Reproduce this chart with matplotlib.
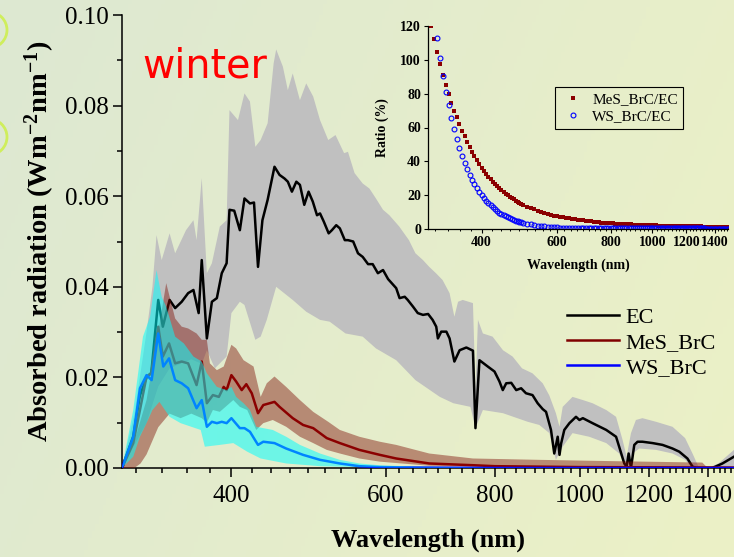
import numpy as np
import matplotlib
matplotlib.use("Agg")
import matplotlib.pyplot as plt
from matplotlib.ticker import FixedLocator, FixedFormatter, NullFormatter, MultipleLocator
from matplotlib.lines import Line2D
from matplotlib.patches import Circle

plt.rcParams['font.family'] = ['Liberation Serif', 'DejaVu Serif']
plt.rcParams['mathtext.fontset'] = 'custom'
plt.rcParams['mathtext.rm'] = 'Liberation Serif:bold'
plt.rcParams['mathtext.it'] = 'Liberation Serif:bold:italic'
plt.rcParams['mathtext.bf'] = 'Liberation Serif:bold'

# ---- main panel data (wavelength nm, absorbed radiation W m-2 nm-1) ----
ec_wl = [300, 309, 314.5, 320, 324, 330, 334, 340, 345, 351, 357, 362, 367, 370, 375, 380, 385, 390,
         395, 398, 403, 409, 414, 420, 424.5, 429, 434, 440, 448, 454, 460, 464, 469, 474.5, 479, 484.5,
         490, 495.5, 501, 505, 510, 516.6, 521, 527, 532, 539, 543.5, 551, 558, 565, 573, 580, 588, 596,
         604, 617, 622.5, 631, 636, 645, 653, 662, 671, 679, 685.5, 688.5, 694.6, 704, 710, 719, 729,
         742, 755, 760, 768, 785, 799, 809.5, 816.6, 824, 835, 846, 857, 868, 883, 895, 907, 915, 927,
         935, 943.5, 948, 952, 960, 973, 981.5, 990, 999, 1008, 1034, 1072, 1100, 1109, 1124, 1131,
         1137, 1144, 1154, 1164, 1179, 1211, 1243, 1276, 1299, 1327, 1345, 1360, 1417, 1455, 1500]
ec_mean = [0, 0.007, 0.016, 0.020, 0.021, 0.0371, 0.0312, 0.0371, 0.0353, 0.0367, 0.0386, 0.0393,
           0.0342, 0.0459, 0.0286, 0.0367, 0.0375, 0.0430, 0.0452, 0.0570, 0.0568, 0.0525, 0.0595,
           0.0584, 0.0586, 0.0444, 0.0547, 0.0592, 0.0665, 0.0647, 0.0639, 0.0632, 0.0610, 0.0632,
           0.0625, 0.0581, 0.0610, 0.0588, 0.0558, 0.0562, 0.0544, 0.0518, 0.0525, 0.0536, 0.0529,
           0.0503, 0.0503, 0.0500, 0.0474, 0.0466, 0.0450, 0.0450, 0.0430, 0.0437, 0.0417, 0.0397,
           0.0375, 0.0378, 0.0371, 0.0356, 0.0342, 0.0338, 0.0340, 0.0327, 0.0312, 0.0286, 0.0301,
           0.0301, 0.0286, 0.0235, 0.0260, 0.0266, 0.0259, 0.0088, 0.0238, 0.0224, 0.0213, 0.0191,
           0.0172, 0.0187, 0.0188, 0.0172, 0.0176, 0.0165, 0.0161, 0.0143, 0.0130, 0.0124, 0.0084,
           0.0032, 0.0069, 0.0029, 0.0054, 0.0084, 0.0099, 0.0106, 0.0113, 0.0106, 0.0110, 0.0099,
           0.0084, 0.0069, 0.0047, 0.0010, 0.0003, 0.0032, 0.0, 0.0051, 0.0058, 0.0058, 0.0055,
           0.0051, 0.0043, 0.0036, 0.0021, 0.0003, 0.0, 0.0, 0.0010, 0.0025]

ec_hi_wl = [300, 310, 320, 325, 328.5, 333, 340, 345, 355, 362, 365, 370, 375, 380, 388, 395, 398,
            407, 414, 420, 426, 432, 440, 447, 450, 458, 464, 470, 479, 487, 496, 505, 516, 526, 538,
            543.5, 553, 565, 575, 585, 596, 606, 622, 638, 649, 662, 673, 685, 697, 710, 719, 726, 735,
            755, 760, 765, 775, 795, 817, 838, 859, 883, 907, 923, 939, 948, 956, 981, 1008, 1034,
            1072, 1100, 1119, 1131, 1144, 1159, 1179, 1222, 1276, 1319, 1345, 1366, 1400, 1440, 1500]
ec_hi = [0, 0.012, 0.030, 0.040, 0.0514, 0.0459, 0.0518, 0.0474, 0.0525, 0.0547, 0.0503, 0.0640,
         0.0430, 0.0452, 0.0533, 0.0547, 0.0790, 0.0768, 0.0827, 0.0809, 0.0709, 0.0724, 0.0761,
         0.0893, 0.0924, 0.0886, 0.0834, 0.0871, 0.0812, 0.0849, 0.0820, 0.0768, 0.0724, 0.0735,
         0.0695, 0.0698, 0.0651, 0.0628, 0.0617, 0.0595, 0.0570, 0.0558, 0.0533, 0.0503, 0.0474,
         0.0459, 0.0444, 0.0430, 0.0415, 0.0386, 0.0334, 0.0367, 0.0371, 0.0364, 0.0172, 0.0327,
         0.0297, 0.0290, 0.0260, 0.0246, 0.0220, 0.0209, 0.0187, 0.0160, 0.0121, 0.0091, 0.0135,
         0.0157, 0.0150, 0.0143, 0.0128, 0.0113, 0.0062, 0.0025, 0.0077, 0.0106, 0.0110, 0.0102,
         0.0091, 0.0066, 0.0032, 0.0003, 0.0, 0.0010, 0.0040]

ec_lo_wl = [300, 320, 330, 340, 350, 360, 370, 375, 383, 395, 400, 409, 414, 426, 432, 439, 450, 470,
            487, 505, 518, 540, 565, 585, 617, 649, 692, 717, 750, 760, 775, 817, 872, 899, 923, 939,
            956, 981, 1025, 1072, 1109, 1131, 1149, 1169, 1222, 1276, 1319, 1345, 1500]
ec_lo = [0, 0.010, 0.018, 0.022, 0.023, 0.024, 0.023, 0.026, 0.0220, 0.0246, 0.0342, 0.0367, 0.0360,
         0.0283, 0.0290, 0.0327, 0.0400, 0.0371, 0.0345, 0.0327, 0.0323, 0.0297, 0.0290, 0.0264,
         0.0238, 0.0194, 0.0157, 0.0143, 0.0135, 0.0088, 0.0128, 0.0121, 0.0102, 0.0095, 0.0077,
         0.0018, 0.0047, 0.0077, 0.0069, 0.0055, 0.0032, 0.0, 0.0032, 0.0043, 0.0040, 0.0032,
         0.0018, 0.0, 0.0]

mes_wl = [300, 309, 314.5, 320, 324, 330, 334, 339.5, 345, 351, 357, 365, 370, 375, 381, 387, 392, 395,
          400, 405, 411, 416, 422, 429, 435, 448, 454, 470, 483, 496, 514, 532, 560, 591, 617, 673, 758,
          800, 1000, 1500]
mes_mean = [0, 0.0055, 0.0128, 0.0202, 0.0209, 0.0312, 0.0246, 0.0275, 0.0231, 0.0235, 0.0231, 0.0183,
            0.0235, 0.0143, 0.0161, 0.0157, 0.0179, 0.0172, 0.0205, 0.0191, 0.0172, 0.0185, 0.0165,
            0.0121, 0.0139, 0.0146, 0.0135, 0.0110, 0.0095, 0.0088, 0.0066, 0.0055, 0.0040, 0.0029,
            0.0021, 0.0010, 0.0006, 0.0004, 0.0002, 0.0001]
mes_hi_wl = [300, 310, 320, 330, 337, 345, 351, 357, 365, 370, 375, 378, 385, 392, 400, 405, 413, 424,
             432, 439, 448, 462, 479, 496, 516, 532, 560, 591, 617, 673, 755, 900, 1100, 1380, 1400]
mes_hi = [0, 0.006, 0.015, 0.030, 0.0408, 0.0330, 0.0312, 0.0308, 0.0297, 0.0283, 0.0283, 0.0231,
          0.0216, 0.0224, 0.0272, 0.0264, 0.0238, 0.0224, 0.0157, 0.0187, 0.0202, 0.0179, 0.0150,
          0.0124, 0.0102, 0.0084, 0.0069, 0.0058, 0.0051, 0.0032, 0.0021, 0.0018, 0.0015, 0.0012, 0.0]
mes_lo_wl = [300, 310, 315, 320, 330, 340, 350, 360, 370, 375, 381, 388, 402, 409, 417, 427, 435, 446,
             462, 479, 496, 514, 532, 560, 591, 617, 673, 800, 1500]
mes_lo = [0, 0.0, 0.001, 0.003, 0.009, 0.012, 0.011, 0.012, 0.011, 0.0100, 0.0128, 0.0124, 0.0150,
          0.0135, 0.0128, 0.0084, 0.0099, 0.0106, 0.0091, 0.0069, 0.0055, 0.0040, 0.0032, 0.0021,
          0.0014, 0.0011, 0.0005, 0.0002, 0.0]

ws_wl = [300, 309, 314.5, 320, 324.3, 330, 334.4, 339.5, 345, 351, 357, 365, 370, 375, 380, 385, 390,
         395, 400, 409, 414, 420, 429, 435, 448, 462, 483, 505, 532, 560, 591, 650, 800, 1500]
ws_mean = [0, 0.0069, 0.0176, 0.0205, 0.0194, 0.0297, 0.0224, 0.0242, 0.0194, 0.0187, 0.0176, 0.0132,
           0.0150, 0.0091, 0.0102, 0.0099, 0.0102, 0.0099, 0.0110, 0.0088, 0.0088, 0.0080, 0.0051,
           0.0058, 0.0055, 0.0043, 0.0029, 0.0018, 0.0010, 0.0004, 0.0002, 0.0001, 0.0, 0.0]
ws_hi_wl = [300, 309, 317, 323, 328.5, 333, 337, 345, 353, 362, 370, 375, 385, 395, 400, 405, 413, 420,
            427, 435, 446, 462, 479, 505, 532, 560, 591, 650, 800, 1500]
ws_hi = [0, 0.0128, 0.029, 0.0334, 0.0437, 0.0378, 0.0356, 0.029, 0.0275, 0.0246, 0.0235, 0.0209,
         0.0179, 0.0172, 0.0179, 0.0157, 0.0143, 0.0128, 0.0091, 0.0088, 0.0084, 0.0069, 0.0051,
         0.0032, 0.0018, 0.0010, 0.0006, 0.0003, 0.0001, 0.0]
ws_lo_wl = [300, 309, 314.5, 320, 325, 331, 340, 350, 360, 369, 373, 388, 402, 417, 432, 462, 505, 600, 1500]
ws_lo = [0, 0.0025, 0.0069, 0.0099, 0.0128, 0.0146, 0.0113, 0.0099, 0.0091, 0.0084, 0.0047, 0.0051,
         0.0055, 0.0036, 0.0021, 0.0010, 0.0004, 0.0001, 0.0]

# ---- inset data: ratio to EC (%), 5 nm steps to 500 nm then 10 nm ----
ratio_wl = list(range(305, 501, 5)) + list(range(510, 1501, 10))
mes_ratio = [120, 112, 104.5, 97.5, 91, 85, 79.5, 74.5, 70, 66, 62, 58.2, 54.7, 51.4, 48.4, 45.6, 43.1,
             40.7, 38.5, 36.4, 34.5, 32.7, 31.0, 29.5, 28.0, 26.7, 25.4, 24.2, 23.1, 22.0, 21.0, 20.1,
             19.2, 18.4, 17.6, 16.9, 16.2, 15.6, 15.0, 14.4,
             13.4, 12.5, 11.7, 11.0, 10.3, 9.7, 9.1, 8.6, 8.1, 7.7,
             7.3, 7.0, 6.7, 6.4, 6.15, 5.9, 5.65, 5.4, 5.2, 5.0,
             4.8, 4.6, 4.45, 4.3, 4.15, 4.0, 3.9, 3.8, 3.7, 3.6,
             3.5, 3.4, 3.3, 3.2, 3.15, 3.1, 3.0, 2.9, 2.85, 2.8,
             2.75, 2.7, 2.65, 2.6, 2.55, 2.5, 2.45, 2.4, 2.35, 2.3,
             2.3, 2.25, 2.2, 2.2, 2.15, 2.1, 2.1, 2.05, 2.0, 2.0,
             2.0, 1.95, 1.95, 1.9, 1.9, 1.9, 1.85, 1.85, 1.8, 1.8,
             1.8, 1.8, 1.75, 1.75, 1.75, 1.7, 1.7, 1.7, 1.7, 1.7,
             1.65, 1.65, 1.65, 1.65, 1.65, 1.6, 1.6, 1.6, 1.6, 1.6,
             1.6, 1.6, 1.6, 1.6, 1.55, 1.55, 1.55, 1.5, 1.5, 1.5]
ws_ratio = [112.5, 101, 90.5, 81, 73, 65.5, 59, 53, 48, 43.3, 39.2, 35.5, 32.2, 29.3, 26.7, 24.3, 22.1,
            20.2, 18.4, 16.8, 15.4, 14.1, 12.9, 11.8, 10.8, 9.9, 9.1, 8.4, 7.7, 7.1, 6.5, 6.0, 5.5,
            5.1, 4.7, 4.4, 4.1, 3.8,
            3.3, 2.9, 2.5, 2.2, 1.9, 1.7, 1.5, 1.35, 1.2, 1.1,
            1.02, 0.95, 0.9, 0.85, 0.81, 0.78, 0.75, 0.72, 0.7, 0.68,
            0.66, 0.65, 0.64, 0.62, 0.61, 0.6, 0.59, 0.58, 0.57, 0.56,
            0.56, 0.55, 0.55, 0.55, 0.54, 0.54, 0.54, 0.53, 0.53, 0.53,
            0.53, 0.52, 0.52, 0.52, 0.52, 0.51, 0.51, 0.51, 0.51, 0.51,
            0.51, 0.5, 0.5, 0.5, 0.5, 0.5, 0.5, 0.5, 0.5, 0.5,
            0.5, 0.5, 0.5, 0.49, 0.49, 0.49, 0.49, 0.49, 0.49, 0.49,
            0.49, 0.49, 0.49, 0.48, 0.48, 0.48, 0.48, 0.48, 0.48, 0.48,
            0.48, 0.48, 0.47, 0.47, 0.47, 0.47, 0.47, 0.47, 0.47, 0.47,
            0.47, 0.47, 0.46, 0.46, 0.46, 0.46, 0.46, 0.45, 0.45, 0.45]

x_ticks = [400, 600, 800, 1000, 1200, 1400]
y_ticks = [0.00, 0.02, 0.04, 0.06, 0.08, 0.10]
inset_y_ticks = [0, 20, 40, 60, 80, 100, 120]

# minor ticks: 8 per 200 nm interval
minor_x = [400 - 200 / 9 * k for k in range(1, 5)] + \
          [400 + 200 / 9 * k for k in range(1, 50) if k % 9 != 0 and 400 + 200 / 9 * k <= 1500]

fig = plt.figure(figsize=(7.34, 5.57), dpi=100)

# background gradient
bg = fig.add_axes([0, 0, 1, 1], zorder=-10)
gx = np.linspace(0, 1, 200)[None, :]
gy = np.linspace(0, 1, 150)[:, None]
c0 = np.array([221, 232, 210]) / 255
c1 = np.array([236, 241, 198]) / 255
t = np.clip(0.75 * gx + 0.25 * gy, 0, 1)[..., None]
bg.imshow(c0 * (1 - t) + c1 * t, aspect='auto', extent=[0, 1, 0, 1], origin='upper')
bg.axis('off')
for cy in [5.27, 4.2]:
    fig.add_artist(Circle((-0.11, cy), 0.18, transform=fig.dpi_scale_trans, fill=False,
                          edgecolor='#cfee5c', linewidth=2.0))

ax = fig.add_axes([122 / 734, 89 / 557, 612 / 734, 453 / 557])
ax.patch.set_alpha(0)

grey = '#c0c0c0'
ax.fill(np.concatenate([ec_hi_wl, ec_lo_wl[::-1]]), np.concatenate([ec_hi, ec_lo[::-1]]),
        color=grey, lw=0, zorder=1)
ax.plot(ec_wl, ec_mean, color='black', lw=1.8, zorder=2)
ax.fill(np.concatenate([mes_hi_wl, mes_lo_wl[::-1]]), np.concatenate([mes_hi, mes_lo[::-1]]),
        color=(0.5, 0.08, 0.04), alpha=0.45, lw=0, zorder=3)
ax.plot(mes_wl, mes_mean, color='#8b0000', lw=1.8, zorder=4)
ax.plot(ws_wl, ws_mean, color='#0000ff', lw=1.8, zorder=5)
ax.fill(np.concatenate([ws_hi_wl, ws_lo_wl[::-1]]), np.concatenate([ws_hi, ws_lo[::-1]]),
        color='#00ffff', alpha=0.52, lw=0, zorder=6)

ax.set_xscale('log')
ax.set_xlim(300, 1500)
ax.set_ylim(0, 0.10)
ax.xaxis.set_major_locator(FixedLocator(x_ticks))
ax.xaxis.set_major_formatter(FixedFormatter([str(v) for v in x_ticks]))
ax.xaxis.set_minor_locator(FixedLocator(minor_x))
ax.xaxis.set_minor_formatter(NullFormatter())
ax.yaxis.set_major_locator(FixedLocator(y_ticks))
ax.yaxis.set_major_formatter(FixedFormatter(['%.2f' % v for v in y_ticks]))
ax.yaxis.set_minor_locator(MultipleLocator(0.01))
ax.tick_params(which='major', direction='out', length=6.5, width=1.1, labelsize=18, pad=3)
ax.tick_params(axis='x', which='major', pad=6)
ax.tick_params(which='minor', direction='out', length=3.3, width=1.1)
for s in ['top', 'right']:
    ax.spines[s].set_visible(False)
for s in ['left', 'bottom']:
    ax.spines[s].set_linewidth(1.1)
ax.set_xlabel('Wavelength (nm)', fontsize=19, fontweight='bold', labelpad=15)
ax.set_ylabel('Absorbed radiation (Wm$^{-2}$nm$^{-1}$)', fontsize=20.5, fontweight='bold', labelpad=6)

ax.text(0.034, 0.861, 'winter', transform=ax.transAxes, color='#ff0000', fontsize=28.5,
        family='DejaVu Sans', va='baseline', ha='left')

handles = [Line2D([], [], color='black', lw=1.8), Line2D([], [], color='#800000', lw=1.8),
           Line2D([], [], color='#0000ff', lw=1.8)]
ax.legend(handles, ['EC', 'MeS_BrC', 'WS_BrC'], loc='upper left', bbox_to_anchor=(0.727, 0.355),
          frameon=False, fontsize=16, handlelength=2.35, handletextpad=0.3, labelspacing=0.2,
          borderpad=0, borderaxespad=0)

# inset
ins = fig.add_axes([428 / 734, (557 - 229.3) / 557, 300 / 734, 203.6 / 557])
ins.patch.set_alpha(0)
ins.plot(ratio_wl, mes_ratio, 's', color='#8b0000', ms=3.0, mew=0, label='MeS_BrC/EC')
ins.plot(ratio_wl[2:], ws_ratio, 'o', mfc='none', mec='#0000ff', ms=3.5, mew=0.8, label='WS_BrC/EC')
ins.set_xscale('log')
ins.set_xlim(300, 1500)
ins.set_ylim(0, 120)
ins.xaxis.set_major_locator(FixedLocator(x_ticks))
ins.xaxis.set_major_formatter(FixedFormatter([str(v) for v in x_ticks]))
ins.xaxis.set_minor_locator(FixedLocator(minor_x))
ins.xaxis.set_minor_formatter(NullFormatter())
ins.yaxis.set_major_locator(FixedLocator(inset_y_ticks))
ins.yaxis.set_major_formatter(FixedFormatter([str(v) for v in inset_y_ticks]))
ins.tick_params(which='major', direction='out', length=3, width=0.8, labelsize=10, pad=2)
ins.tick_params(which='minor', direction='out', length=1.6, width=0.7)
for lab in ins.get_xticklabels() + ins.get_yticklabels():
    lab.set_fontweight('bold')
for s in ['top', 'right']:
    ins.spines[s].set_visible(False)
for s in ['left', 'bottom']:
    ins.spines[s].set_linewidth(0.9)
ins.set_xlabel('Wavelength (nm)', fontsize=10, fontweight='bold', labelpad=7)
ins.set_ylabel('Ratio (%)', fontsize=10, fontweight='bold', labelpad=8)
leg = ins.legend(loc='upper left', bbox_to_anchor=(555 / 734, 1 - 87 / 557), bbox_transform=fig.transFigure,
                 fontsize=11, numpoints=1, handlelength=1.6, handletextpad=0.5, labelspacing=0.25,
                 borderpad=0.35, borderaxespad=0, fancybox=False, framealpha=1)
leg.get_frame().set_facecolor('none')
leg.get_frame().set_edgecolor('black')
leg.get_frame().set_linewidth(0.8)

fig.savefig('out.png', dpi=100)
